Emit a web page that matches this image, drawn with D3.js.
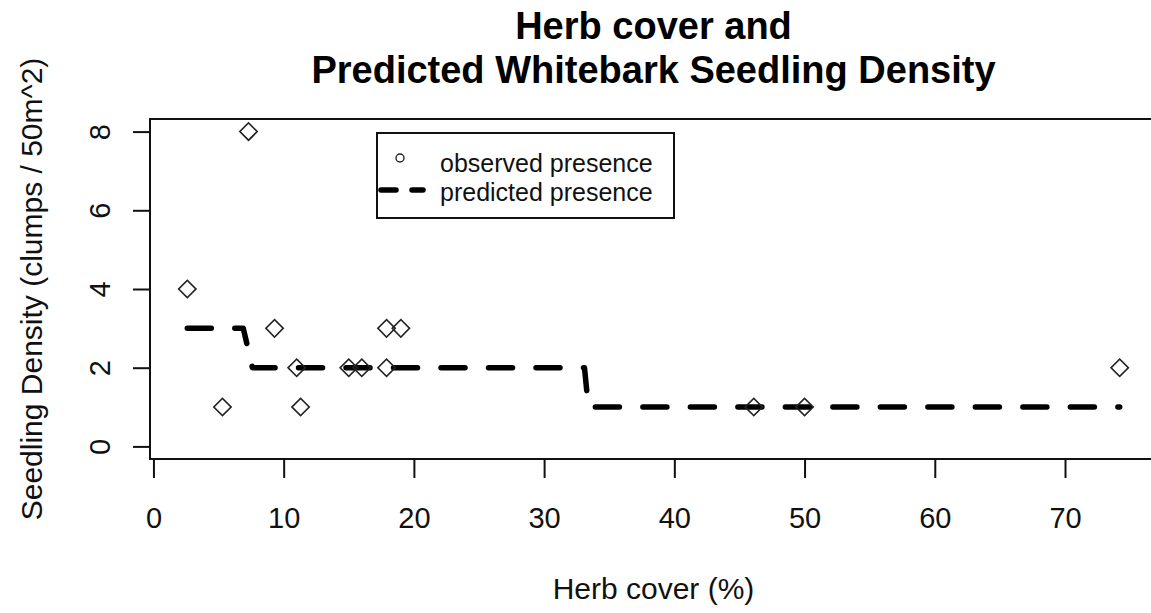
<!DOCTYPE html>
<html>
<head>
<meta charset="utf-8">
<script src="https://cdn.jsdelivr.net/npm/d3@7"></script>
<style>
  body { margin: 0; background: #fff; }
  svg { display: block; font-family: "Liberation Sans", Arial, sans-serif; }
</style>
</head>
<body>
<svg id="chart"></svg>
<script>
// observed plots: herb cover (%) and seedling clumps
let obsX = [2.6, 7.3, 5.3, 9.3, 11.0, 11.3, 15.0, 16.0, 17.9, 19.0, 17.9, 46.1, 50.0, 74.2];
let obsY = [4, 8, 1, 3, 2, 1, 2, 2, 3, 3, 2, 1, 1, 2];

// predicted density along sorted herb cover
let predX = [2.6, 6.9, 7.6, 33.1, 33.4, 74.2];
let predY = [3, 3, 2, 2, 1, 1];

let xTicks = [0, 10, 20, 30, 40, 50, 60, 70];
let yTicks = [0, 2, 4, 6, 8];

let legendLabels = ["observed presence", "predicted presence"];

let width = 1151, height = 613;
let plotLeft = 150, plotRight = 1157, plotTop = 119, plotBottom = 459;

let svg = d3.select("#chart")
  .attr("width", width)
  .attr("height", height);

svg.append("rect")
  .attr("width", width)
  .attr("height", height)
  .attr("fill", "white");

// R style 4% range padding
function padded(lo, hi) {
  let d = (hi - lo) * 0.04;
  return [lo - d, hi + d];
}

let x = d3.scaleLinear()
  .domain(padded(d3.min(obsX), d3.max(obsX)))
  .range([plotLeft, plotRight]);

let y = d3.scaleLinear()
  .domain(padded(0, 8))
  .range([plotBottom, plotTop]);

let ink = "#111";

// x axis
let xAxis = svg.append("g")
  .attr("transform", `translate(0,${plotBottom})`)
  .call(d3.axisBottom(x).tickValues(xTicks).tickSize(19).tickSizeOuter(0).tickPadding(50));
xAxis.select(".domain").attr("stroke", ink).attr("stroke-width", 2)
  .attr("d", `M${x(0)},0H${x(70)}`);
xAxis.selectAll(".tick line").attr("stroke", ink).attr("stroke-width", 2);
xAxis.selectAll(".tick text")
  .attr("fill", ink)
  .attr("font-size", 29)
  .attr("font-family", "Liberation Sans, Arial, sans-serif")
  .attr("dy", null)
  .attr("y", 69);

// y axis, labels turned like R's default
let yAxis = svg.append("g")
  .attr("transform", `translate(${plotLeft},0)`)
  .call(d3.axisLeft(y).tickValues(yTicks).tickSize(17).tickSizeOuter(0));
yAxis.select(".domain").attr("stroke", ink).attr("stroke-width", 2)
  .attr("d", `M0,${y(0)}V${y(8)}`);
yAxis.selectAll(".tick line").attr("stroke", ink).attr("stroke-width", 2);
yAxis.selectAll(".tick text")
  .attr("fill", ink)
  .attr("font-size", 29)
  .attr("font-family", "Liberation Sans, Arial, sans-serif")
  .attr("x", null)
  .attr("dy", null)
  .attr("text-anchor", "middle")
  .attr("transform", "translate(-40.5,0) rotate(-90)");

// box
svg.append("rect")
  .attr("x", plotLeft)
  .attr("y", plotTop)
  .attr("width", plotRight - plotLeft)
  .attr("height", plotBottom - plotTop)
  .attr("fill", "none")
  .attr("stroke", ink)
  .attr("stroke-width", 2);

// predicted line
let line = d3.line()
  .x((d, i) => x(predX[i]))
  .y((d, i) => y(predY[i]));

svg.append("path")
  .attr("d", line(predX))
  .attr("fill", "none")
  .attr("stroke", "#000")
  .attr("stroke-width", 5.5)
  .attr("stroke-linecap", "round")
  .attr("stroke-linejoin", "round")
  .attr("stroke-dasharray", "24,23.5");

// observed diamonds
let diamond = d3.symbol().type(d3.symbolSquare).size(150);
svg.append("g")
  .selectAll("path")
  .data(obsX)
  .join("path")
  .attr("d", diamond)
  .attr("transform", (d, i) => `translate(${x(d)},${y(obsY[i])}) rotate(45)`)
  .attr("fill", "none")
  .attr("stroke", "#222")
  .attr("stroke-width", 1.6);

// legend
let legend = svg.append("g");
legend.append("rect")
  .attr("x", 377)
  .attr("y", 133)
  .attr("width", 297)
  .attr("height", 85)
  .attr("fill", "white")
  .attr("stroke", ink)
  .attr("stroke-width", 2);
legend.append("circle")
  .attr("cx", 400)
  .attr("cy", 158)
  .attr("r", 4)
  .attr("fill", "none")
  .attr("stroke", "#222")
  .attr("stroke-width", 1.4);
legend.append("path")
  .attr("d", "M381,190H423")
  .attr("stroke", "#000")
  .attr("stroke-width", 5.5)
  .attr("stroke-linecap", "round")
  .attr("stroke-dasharray", "15,16");
legend.selectAll("text")
  .data(legendLabels)
  .join("text")
  .attr("x", 440)
  .attr("y", (d, i) => 172 + i * 29)
  .attr("font-size", 25)
  .attr("fill", ink)
  .text(d => d);

// titles
let midX = (plotLeft + plotRight) / 2;
svg.append("text")
  .attr("x", midX)
  .attr("y", 39)
  .attr("text-anchor", "middle")
  .attr("font-size", 38)
  .attr("font-weight", "bold")
  .attr("fill", "#000")
  .text("Herb cover and");
svg.append("text")
  .attr("x", midX)
  .attr("y", 83)
  .attr("text-anchor", "middle")
  .attr("font-size", 38)
  .attr("font-weight", "bold")
  .attr("fill", "#000")
  .text("Predicted Whitebark Seedling Density");

svg.append("text")
  .attr("x", midX)
  .attr("y", 599)
  .attr("text-anchor", "middle")
  .attr("font-size", 30)
  .attr("fill", ink)
  .text("Herb cover (%)");

svg.append("text")
  .attr("transform", `translate(42,${(plotTop + plotBottom) / 2}) rotate(-90)`)
  .attr("text-anchor", "middle")
  .attr("font-size", 30)
  .attr("fill", ink)
  .text("Seedling Density (clumps / 50m^2)");
</script>
</body>
</html>
